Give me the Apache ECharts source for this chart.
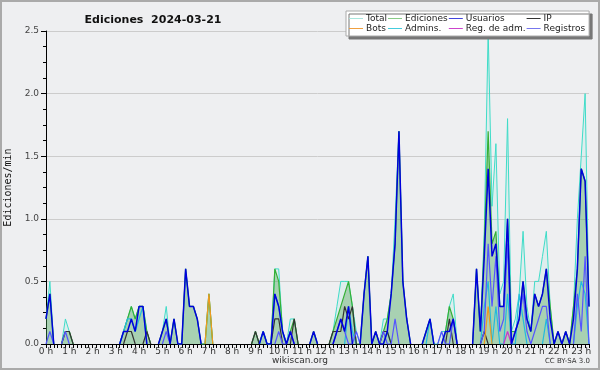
<!DOCTYPE html>
<html>
<head>
<meta charset="utf-8">
<script src="https://cdn.jsdelivr.net/npm/echarts@6/dist/echarts.min.js"></script>
<style>
  body { margin: 0; background: #eeeff1; }
  #chart { width: 600px; height: 370px; }
</style>
</head>
<body>
<div id="chart"></div>
<script>
// 10-minute bins, index 0 = 0h00 ... 140 = 23h20 (edits per minute)
var total = [0.2,0.5,0,0,0,0.2,0.1,0,0,0,0,0,0,0,0,0,0,0,0,0,
  0.1,0.2,0.3,0.2,0.3,0.3,0.1,0,0,0,0.1,0.3,0,0.2,0,0,0.6,0.3,0.3,0.2,
  0,0,0.4,0,0,0,0,0,0,0,0,0,0,0,0.1,0,0.1,0,0,0.6,
  0.6,0.1,0,0.2,0.2,0,0,0,0,0.1,0,0,0,0,0.1,0.3,0.5,0.5,0.5,0.3,
  0.1,0,0.4,0.7,0,0.1,0,0.2,0.2,0.4,1.0,1.7,0.5,0.2,0,0,0,0,0.1,0.2,
  0,0,0.1,0.1,0.3,0.4,0,0,0,0,0,0.6,0.1,0.9,2.5,1.1,1.6,0.4,0.5,1.8,
  0.1,0.2,0.4,0.9,0.3,0.1,0.5,0.5,0.7,0.9,0.3,0,0.1,0,0.1,0,0.3,1.0,1.5,2.0,
  0.3];
var ediciones = [0.2,0.4,0,0,0,0.1,0.1,0,0,0,0,0,0,0,0,0,0,0,0,0,
  0.1,0.2,0.3,0.2,0.3,0.3,0.1,0,0,0,0.1,0.2,0,0.2,0,0,0.6,0.3,0.3,0.2,
  0,0,0.4,0,0,0,0,0,0,0,0,0,0,0,0.1,0,0.1,0,0,0.6,
  0.5,0.1,0,0.1,0.2,0,0,0,0,0.1,0,0,0,0,0.1,0.2,0.3,0.4,0.5,0.3,
  0,0,0.4,0.7,0,0.1,0,0.1,0.2,0.4,0.8,1.7,0.5,0.2,0,0,0,0,0.1,0.2,
  0,0,0,0.1,0.3,0.2,0,0,0,0,0,0.6,0.1,0.8,1.7,0.8,0.9,0.3,0.3,1.0,
  0.1,0.1,0.2,0.5,0.2,0.1,0.4,0.3,0.4,0.6,0.3,0,0.1,0,0.1,0,0.3,0.6,1.4,1.3,
  0.3];
var usuarios = [0.2,0.4,0,0,0,0,0,0,0,0,0,0,0,0,0,0,0,0,0,0,
  0.1,0.1,0.2,0.1,0.3,0.3,0,0,0,0,0.1,0.2,0,0.2,0,0,0.6,0.3,0.3,0.2,
  0,0,0,0,0,0,0,0,0,0,0,0,0,0,0,0,0.1,0,0,0.4,
  0.3,0.1,0,0.1,0,0,0,0,0,0.1,0,0,0,0,0,0.1,0.2,0.1,0.3,0,
  0,0,0.4,0.7,0,0.1,0,0,0.1,0.4,0.8,1.7,0.5,0.2,0,0,0,0,0.1,0.2,
  0,0,0,0.1,0.1,0.2,0,0,0,0,0,0.6,0.1,0.7,1.4,0.7,0.8,0.3,0.3,1.0,
  0,0.1,0.2,0.5,0.2,0.1,0.4,0.3,0.4,0.6,0.2,0,0.1,0,0.1,0,0.2,0.6,1.4,1.3,
  0.3];
var ip = [0,0,0,0,0,0.1,0.1,0,0,0,0,0,0,0,0,0,0,0,0,0,
  0,0.1,0.1,0,0,0,0.1,0,0,0,0,0,0,0,0,0,0,0,0,0,
  0,0,0,0,0,0,0,0,0,0,0,0,0,0,0.1,0,0,0,0,0.2,
  0.2,0,0,0,0.2,0,0,0,0,0,0,0,0,0,0.1,0.1,0.1,0.3,0.2,0.3,
  0,0,0,0,0,0,0,0.1,0.1,0,0,0,0,0,0,0,0,0,0,0,
  0,0,0,0,0.2,0,0,0,0,0,0,0,0,0.1,0,0,0,0,0,0,
  0,0,0,0,0,0,0,0,0,0,0,0,0,0,0,0,0,0,0,0,
  0];
var bots = [0,0,0,0,0,0,0,0,0,0,0,0,0,0,0,0,0,0,0,0,
  0,0,0,0,0,0,0,0,0,0,0,0,0,0,0,0,0,0,0,0,
  0,0,0.4,0,0,0,0,0,0,0,0,0,0,0,0,0,0,0,0,0,
  0,0,0,0,0,0,0,0,0,0,0,0,0,0,0,0,0,0,0,0,
  0,0,0,0,0,0,0,0,0,0,0,0,0,0,0,0,0,0,0,0,
  0,0,0,0,0,0,0,0,0,0,0,0,0,0,0.3,0,0,0,0,0,
  0,0,0,0,0,0,0,0,0,0,0,0,0,0,0,0,0,0,0,0,
  0];
var admins = [0,0,0,0,0,0,0,0,0,0,0,0,0,0,0,0,0,0,0,0,
  0.1,0.2,0.2,0.1,0.2,0.3,0,0,0,0,0,0,0,0,0,0,0,0,0,0,
  0,0,0,0,0,0,0,0,0,0,0,0,0,0,0,0,0.1,0,0,0.4,
  0.3,0.1,0,0,0,0,0,0,0,0,0,0,0,0,0,0,0,0,0.3,0.1,
  0,0,0,0,0,0,0,0,0.1,0,0,0,0,0,0,0,0,0,0,0.2,
  0,0,0,0,0,0,0,0,0,0,0,0,0,0.3,0.5,0,0.3,0,0,0.4,
  0,0,0.4,0.2,0,0,0,0,0,0.2,0,0,0,0,0,0,0,0.3,0.5,0.4,
  0];
var regAdm = [0,0,0,0,0,0,0,0,0,0,0,0,0,0,0,0,0,0,0,0,
  0,0,0,0,0,0,0,0,0,0,0,0,0,0,0,0,0,0,0,0,
  0,0,0,0,0,0,0,0,0,0,0,0,0,0,0,0,0,0,0,0,
  0,0,0,0,0,0,0,0,0,0,0,0,0,0,0,0,0,0,0,0,
  0,0,0,0,0,0,0,0,0,0,0,0,0,0,0,0,0,0,0,0,
  0,0,0,0,0,0,0,0,0,0,0,0,0,0,0,0,0,0,0,0.1,
  0,0,0,0,0,0,0,0,0,0,0,0,0,0,0,0,0,0,0,0,
  0];
var registros = [0,0.1,0,0,0,0.1,0,0,0,0,0,0,0,0,0,0,0,0,0,0,
  0,0,0,0,0,0,0,0,0,0,0,0.1,0,0,0,0,0,0,0,0,
  0,0,0,0,0,0,0,0,0,0,0,0,0,0,0,0,0,0,0,0,
  0.1,0,0,0.1,0,0,0,0,0,0,0,0,0,0,0,0.1,0.2,0.1,0,0,
  0.1,0,0,0,0,0,0,0.1,0,0,0.2,0,0,0,0,0,0,0,0,0,
  0,0,0.1,0,0,0.2,0,0,0,0,0,0,0,0.1,0.8,0.3,0.7,0.1,0.2,0.8,
  0,0.1,0.2,0.4,0.1,0,0.1,0.2,0.3,0.3,0,0,0,0,0,0,0,0.4,0.1,0.7,
  0];

// zero runs are not drawn: keep a 0 only next to a non-zero value
function pts(arr){
    return arr.map(function(v,i){
        var prev = i > 0 ? arr[i-1] : 0;
        var next = i < arr.length - 1 ? arr[i+1] : 0;
        if (v === 0 && prev === 0 && next === 0) return [i, null];
        return [i, v];
    });
}

var myChart = echarts.init(document.getElementById('chart'));

function lineSerie(name, arr, color, width){
    return {
        name: name, type: 'line', data: pts(arr), symbol: 'none',
        connectNulls: false,
        lineStyle: { color: color, width: width || 1 },
        itemStyle: { color: color },
        emphasis: { disabled: true }, animation: false
    };
}

var sTotal = lineSerie('Total', total, '#3fdcc8', 1);
sTotal.areaStyle = { color: 'rgba(64,220,200,0.13)', origin: 'start' };
var sEd = lineSerie('Ediciones', ediciones, '#35b035', 1.2);
sEd.areaStyle = { color: 'rgba(70,160,70,0.5)', origin: 'start' };

option = {
    backgroundColor: '#eeeff1',
    animation: false,
    title: {
        text: 'Ediciones  2024-03-21',
        left: 148, top: 10, textAlign: 'center',
        textStyle: { fontFamily: 'DejaVu Sans', fontSize: 11, fontWeight: 'bold', color: '#111' }
    },
    legend: {
        orient: 'vertical',
        left: 346, top: 11,
        height: 22,
        itemGap: 1,
        itemWidth: 14, itemHeight: 1,
        icon: 'rect',
        padding: [3, 4, 3, 3],
        backgroundColor: '#ffffff',
        borderColor: '#aaaaaa', borderWidth: 1,
        shadowColor: '#777', shadowBlur: 0, shadowOffsetX: 3, shadowOffsetY: 3,
        textStyle: { fontFamily: 'DejaVu Sans', fontSize: 9, color: '#222', padding: [0,0,0,-2] },
        data: [
            { name: 'Total', itemStyle: { color: '#a8e6de' } },
            { name: 'Bots', itemStyle: { color: '#f0a040' } },
            { name: 'Ediciones', itemStyle: { color: '#88cc88' } },
            { name: 'Admins.', itemStyle: { color: '#44ccdd' } },
            { name: 'Usuarios', itemStyle: { color: '#4444dd' } },
            { name: 'Reg. de adm.', itemStyle: { color: '#cc44cc' } },
            { name: 'IP', itemStyle: { color: '#333333' } },
            { name: 'Registros', itemStyle: { color: '#7777ee' } }
        ]
    },
    grid: { left: 46, right: 11, top: 31, bottom: 26, outerBoundsMode: 'none' },
    xAxis: {
        type: 'value', min: 0, max: 140, interval: 1,
        axisLine: { lineStyle: { color: '#000' } },
        axisTick: { length: 4, lineStyle: { color: '#000' } },
        splitLine: { show: false },
        axisLabel: {
            fontFamily: 'DejaVu Sans', fontSize: 9, color: '#333', margin: 3,
            formatter: function(v){ return v % 6 === 0 ? (v / 6) + ' h' : ''; }
        }
    },
    yAxis: {
        type: 'value', min: 0, max: 2.5, interval: 0.5,
        name: 'Ediciones/min', nameLocation: 'middle', nameGap: 31,
        nameTextStyle: { fontFamily: 'DejaVu Sans Mono', fontSize: 10, color: '#111' },
        axisLine: { show: true, lineStyle: { color: '#000' } },
        axisTick: { show: true, length: 5, lineStyle: { color: '#000' } },
        minorTick: { show: true, splitNumber: 4, length: 3, lineStyle: { color: '#000' } },
        splitLine: { lineStyle: { color: '#cccccc' } },
        axisLabel: {
            fontFamily: 'DejaVu Sans', fontSize: 9, color: '#444', margin: 7,
            formatter: function(v){ return v.toFixed(1); }
        }
    },
    graphic: [
        { type: 'rect', shape: { x: 1, y: 1, width: 598, height: 368 },
          style: { fill: null, stroke: '#aaaaaa', lineWidth: 2 }, silent: true },
        { type: 'text', left: 'center', top: 356,
          style: { text: 'wikiscan.org', font: '9px DejaVu Sans', fill: '#333' } },
        { type: 'text', right: 10, top: 358,
          style: { text: 'CC BY-SA 3.0', font: '7px DejaVu Sans', fill: '#333' } }
    ],
    series: [
        sTotal,
        sEd,
        lineSerie('Admins.', admins, '#22bbdd', 1.2),
        lineSerie('IP', ip, '#333333', 1.2),
        lineSerie('Bots', bots, '#f09a20', 1.2),
        lineSerie('Reg. de adm.', regAdm, '#cc33cc', 1.2),
        lineSerie('Registros', registros, '#5555ff', 1.2),
        lineSerie('Usuarios', usuarios, '#0000dd', 1.5)
    ]
};

myChart.setOption(option);
</script>
</body>
</html>
